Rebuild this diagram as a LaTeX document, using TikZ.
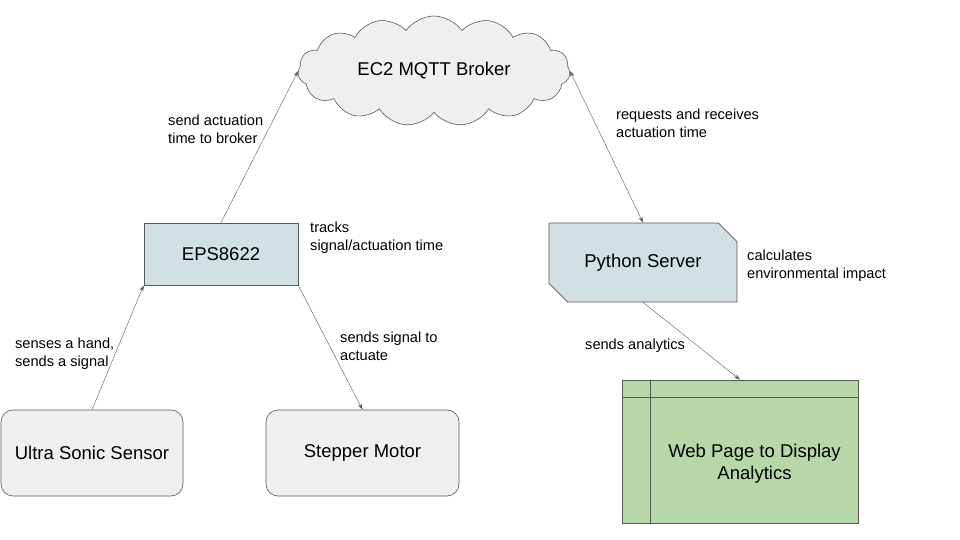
\documentclass[tikz,border=0pt]{standalone}
\usepackage{fontspec}
\setmainfont{Liberation Sans}
\usepackage{tikz}
\usetikzlibrary{shapes.symbols,shapes.misc,arrows.meta,calc}
\definecolor{bordergris}{HTML}{595959}
\definecolor{grisclaro}{HTML}{EFEFEF}
\definecolor{azulgris}{HTML}{D0E0E3}
\definecolor{verdecito}{HTML}{B6D7A8}
\tikzset{>={Stealth[length=6pt,width=4pt]}}
\tikzset{
  caja/.style={draw=bordergris, semithick, minimum width=#1, font=\fontsize{18.5}{22}\selectfont, inner sep=0pt},
  etiqueta/.style={anchor=north west, align=left, inner sep=0pt, font=\fontsize{14.6}{18}\selectfont},
  flecha/.style={->, bordergris, thin}
}

\begin{document}
\begin{tikzpicture}[x=1pt,y=1pt]
	\useasboundingbox (0,0) rectangle (960,540);

	% bloques
	\node[caja=272pt, cloud, cloud puffs=15, cloud puff arc=110, aspect=2.5, minimum height=110pt, fill=grisclaro] (broker) at (434,469) {EC2 MQTT Broker};
	\node[caja=154pt, minimum height=62pt, fill=azulgris] (eps) at (221,286) {EPS8622};
	\node[caja=182pt, minimum height=86pt, rounded corners=12pt, fill=grisclaro] (sensor) at (92,87) {Ultra Sonic Sensor};
	\node[caja=193pt, minimum height=86pt, rounded corners=12pt, fill=grisclaro] (motor) at (362.5,87) {Stepper Motor};
	\node[caja=188pt, minimum height=79pt, chamfered rectangle, chamfered rectangle corners={north east,south west}, chamfered rectangle xsep=10pt, chamfered rectangle ysep=10pt, fill=azulgris] (server) at (643,277.5) {Python Server};
	\node[caja=236pt, minimum height=143pt, fill=verdecito] (web) at (740,88.5) {};
	\draw[bordergris, semithick] ($(web.north west)+(29,0)$) -- ($(web.south west)+(29,0)$);
	\draw[bordergris, semithick] ($(web.north west)+(0,-18)$) -- ($(web.north east)+(0,-18)$);
	\node[font=\fontsize{18.5}{22}\selectfont, align=center, inner sep=0pt] (webtxt) at ($(web.center)+(14.5,-12.5)$) {Web Page to Display\\Analytics};

	% conexiones
	\draw[flecha] (eps.north) -- (broker.west);
	\draw[flecha, <->] (broker.east) -- (server.north);
	\draw[flecha] (sensor.north) -- (eps.south west);
	\draw[flecha] (eps.south east) -- (motor.north);
	\draw[flecha] (server.south) -- (web.north);

	% etiquetas
	\node[etiqueta] (l-broker) at (168,425) {send actuation\\time to broker};
	\node[etiqueta] (l-pide) at (616,431) {requests and receives\\actuation time};
	\node[etiqueta] (l-tracks) at (310,318) {tracks\\signal/actuation time};
	\node[etiqueta] (l-calc) at (747,290) {calculates\\environmental impact};
	\node[etiqueta] (l-senses) at (15,202) {senses a hand,\\sends a signal};
	\node[etiqueta] (l-actuate) at (340,208) {sends signal to\\actuate};
	\node[etiqueta] (l-analytics) at (585,201) {sends analytics};

\end{tikzpicture}
\end{document}
